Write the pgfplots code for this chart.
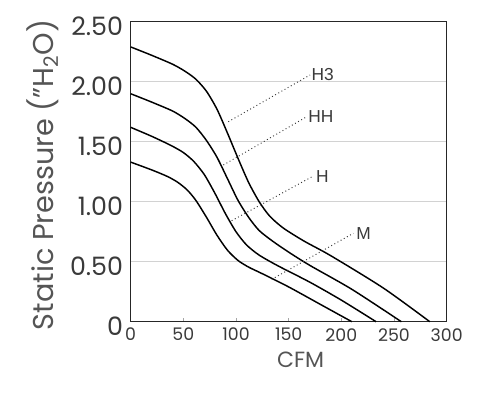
\documentclass[border=0pt]{standalone}
\usepackage{pgfplots}
\pgfplotsset{compat=1.18}
\usepackage{fontspec}
\setmainfont{Poppins}
\newfontfamily\lblfont{Liberation Sans}
\definecolor{txt}{HTML}{3A3A3A}
\definecolor{ylab}{HTML}{555555}
\begin{document}
\begin{tikzpicture}
\path[use as bounding box] (0,0) rectangle (360pt,298.5pt);
\begin{axis}[
 at={(98pt,57.2pt)}, anchor=south west, scale only axis,
 width=237pt, height=225pt,
 xmin=0,xmax=300,ymin=0,ymax=2.5,
 xtick={0,50,100,150,200,250,300}, ytick={0,0.5,1,1.5,2,2.5},
 yticklabels={0,0.50,1.00,1.50,2.00,2.50},
 xticklabels={0,50,100,150,200,250,300},
 ymajorgrids, grid style={color=gray!35, line width=0.8pt},
 axis line style={line width=1.1pt, color=black!85},
 tick align=inside, major tick length=3pt,
 xtick style={color=gray!70, line width=0.6pt},
 ytick style={draw=none},
 xtick pos=bottom, ytick pos=left,
 yticklabel style={font=\fontsize{19}{19}\selectfont, color=txt, inner sep=0pt, xshift=-5.5pt, yshift=-3.5pt},
 xticklabel style={font=\fontsize{13}{13}\selectfont, color=txt, inner sep=0pt, yshift=-4.7pt},
 clip=false,
]
% H3
\addplot[black, line width=1.1pt, smooth, tension=0.45] coordinates {
(0,2.29) (20,2.22) (40,2.145) (52,2.085) (62,2.02) (72,1.92) (82,1.77) (92,1.57) (102,1.36) (112,1.16) (122,1.00) (132,0.88) (145,0.78) (165,0.67) (190,0.55) (240,0.28) (284,0)};
% HH
\addplot[black, line width=1.1pt, smooth, tension=0.45] coordinates {
(0,1.90) (20,1.83) (40,1.755) (52,1.69) (62,1.62) (72,1.51) (82,1.37) (92,1.19) (102,1.01) (112,0.87) (122,0.76) (135,0.67) (150,0.58) (170,0.47) (210,0.27) (257,0)};
% H
\addplot[black, line width=1.1pt, smooth, tension=0.45] coordinates {
(0,1.62) (20,1.545) (38,1.47) (50,1.41) (60,1.335) (70,1.225) (80,1.07) (90,0.90) (100,0.75) (110,0.64) (122,0.555) (140,0.465) (170,0.33) (200,0.18) (233,0)};
% M
\addplot[black, line width=1.1pt, smooth, tension=0.45] coordinates {
(0,1.33) (20,1.265) (35,1.21) (45,1.16) (54,1.095) (62,1.01) (72,0.87) (82,0.72) (92,0.595) (102,0.51) (112,0.455) (125,0.40) (150,0.29) (180,0.145) (210,0)};
% leaders
\addplot[black!80, line width=0.7pt, dotted] coordinates {(92.7,1.667) (170.3,2.056)};
\addplot[black!80, line width=0.7pt, dotted] coordinates {(88,1.306) (167.1,1.708)};
\addplot[black!80, line width=0.7pt, dotted] coordinates {(95.9,0.842) (173.4,1.214)};
\addplot[black!80, line width=0.7pt, dotted] coordinates {(133.9,0.353) (211.4,0.737)};
\node[anchor=west, inner sep=1pt, font=\lblfont\fontsize{13}{13}\selectfont, color=txt] at (axis cs:170.3,2.056) {H3};
\node[anchor=west, inner sep=1pt, font=\lblfont\fontsize{13}{13}\selectfont, color=txt] at (axis cs:167.1,1.708) {HH};
\node[anchor=west, inner sep=2pt, font=\lblfont\fontsize{13}{13}\selectfont, color=txt] at (axis cs:173.4,1.214) {H};
\node[anchor=west, inner sep=2pt, font=\lblfont\fontsize{13}{13}\selectfont, color=txt] at (axis cs:211.4,0.737) {M};
\end{axis}
\node[font=\fontsize{16.5}{16.5}\selectfont, color=ylab] at (225.5pt,28.3pt) {CFM};
\node[rotate=90, font=\fontsize{21.5}{21.5}\selectfont, color=ylab] at (32.25pt,167.25pt) {Static Pressure ("H\textsubscript{2}O)};
\end{tikzpicture}
\end{document}
